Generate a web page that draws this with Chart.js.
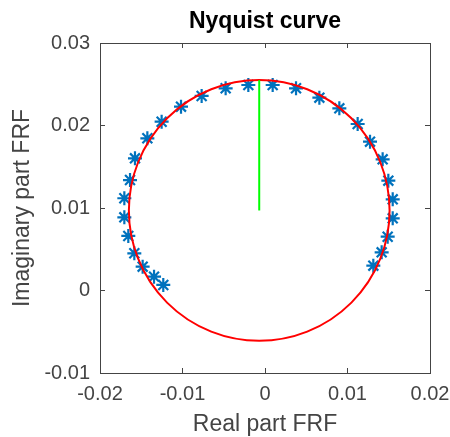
<!DOCTYPE html>
<html>
<head>
<meta charset="utf-8">
<script src="https://cdn.jsdelivr.net/npm/chart.js@4"></script>
<style>
  body { margin: 0; background: #fff; }
</style>
</head>
<body>
<canvas id="c" width="450" height="437"></canvas>
<script>
// measured FRF points (real, imaginary)
const realPart = [-0.01233, -0.01345, -0.01483, -0.01584, -0.01657, -0.01705, -0.01705,
  -0.01636, -0.01576, -0.01426, -0.01253, -0.01018, -0.00768, -0.00477, -0.00202,
  0.00093, 0.00376, 0.00659, 0.00901, 0.01123, 0.01273, 0.01426, 0.01495, 0.01548,
  0.01548, 0.01487, 0.01414, 0.01313];
const imagPart = [0.00067, 0.00168, 0.00289, 0.00451, 0.00661, 0.00887, 0.01118,
  0.01339, 0.01602, 0.01845, 0.02046, 0.02228, 0.02358, 0.02451, 0.02491,
  0.02491, 0.02451, 0.02337, 0.02208, 0.02018, 0.01804, 0.0159, 0.01331, 0.01105,
  0.00875, 0.00652, 0.00463, 0.00301];

// fitted circle
const circleCenter = [-0.0007, 0.0097];
const circleRadius = 0.0158;

// radius line (center -> top of circle)
const radiusLineX = [-0.0007, -0.0007];
const radiusLineY = [0.0097, 0.0255];

const xTickLabels = ['-0.02', '-0.01', '0', '0.01', '0.02'];
const yTickLabels = ['-0.01', '0', '0.01', '0.02', '0.03'];

const FONT = 'Liberation Sans, Arial, Helvetica, sans-serif';
const AXIS_COLOR = '#444';

const circlePlugin = {
  id: 'fitCircle',
  afterDatasetDraw(chart, args) {
    if (args.index !== 0) return;
    const xs = chart.scales.x, ys = chart.scales.y;
    const px = xs.getPixelForValue(circleCenter[0]);
    const py = ys.getPixelForValue(circleCenter[1]);
    const rx = Math.abs(xs.getPixelForValue(circleCenter[0] + circleRadius) - px);
    const ry = Math.abs(ys.getPixelForValue(circleCenter[1] + circleRadius) - py);
    const ctx = chart.ctx;
    ctx.save();
    ctx.strokeStyle = '#ff0000';
    ctx.lineWidth = 2;
    ctx.beginPath();
    ctx.ellipse(px, py, rx, ry, 0, 0, Math.PI * 2);
    ctx.stroke();
    ctx.restore();
  }
};

// top and right axes only close the box and carry inward ticks
const boxAxis = (pos) => ({
  type: 'linear',
  position: pos,
  min: pos === 'top' ? -0.02 : -0.01,
  max: pos === 'top' ? 0.02 : 0.03,
  ticks: { display: false, stepSize: 0.01 },
  grid: { drawOnChartArea: false, tickLength: -5, color: AXIS_COLOR },
  border: { display: true, color: AXIS_COLOR, width: 1 },
  // the plot title sits on the top axis so it is centred over the plot box
  title: {
    display: pos === 'top',
    text: 'Nyquist curve',
    color: '#000',
    font: { family: FONT, size: 23, weight: 'bold' },
    padding: { top: 8, bottom: 0 }
  },
  afterFit(s) {
    if (pos === 'top') s.height = 43; else s.width = 0;
    s.paddingLeft = s.paddingRight = s.paddingTop = s.paddingBottom = 0;
  }
});

new Chart(document.getElementById('c'), {
  type: 'scatter',
  data: {
    datasets: [
      {
        label: 'FRF',
        data: realPart.map((x, i) => ({ x, y: imagPart[i] })),
        pointStyle: 'star',
        pointRadius: 7,
        pointBorderWidth: 2.2,
        borderColor: '#0072bd',
        backgroundColor: '#0072bd',
        showLine: false,
        order: 2
      },
      {
        label: 'radius',
        data: radiusLineX.map((x, i) => ({ x, y: radiusLineY[i] })),
        showLine: true,
        borderColor: '#00ff00',
        borderWidth: 2,
        pointRadius: 0,
        order: 1
      }
    ]
  },
  options: {
    responsive: false,
    animation: false,
    devicePixelRatio: 1,
    layout: { padding: { left: 0, right: 20, top: 0, bottom: 0 } },
    plugins: {
      legend: { display: false },
      tooltip: { enabled: false },
      title: { display: false }
    },
    scales: {
      x: {
        type: 'linear',
        position: 'bottom',
        min: -0.02,
        max: 0.02,
        ticks: {
          stepSize: 0.01,
          padding: 14,
          maxRotation: 0,
          color: '#444',
          font: { family: FONT, size: 20 },
          callback: (v, i) => xTickLabels[i]
        },
        grid: { drawOnChartArea: false, tickLength: -5, color: AXIS_COLOR },
        border: { display: true, color: AXIS_COLOR, width: 1 },
        title: {
          display: true,
          text: 'Real part FRF',
          color: '#444',
          font: { family: FONT, size: 23, lineHeight: 1.1 },
          padding: { top: 0, bottom: 0 }
        },
        afterFit(s) {
          s.height = 64;
          s.paddingLeft = s.paddingRight = 0;
        }
      },
      y: {
        type: 'linear',
        position: 'left',
        min: -0.01,
        max: 0.03,
        ticks: {
          stepSize: 0.01,
          padding: 15,
          color: '#444',
          font: { family: FONT, size: 20 },
          callback: (v, i) => yTickLabels[i]
        },
        grid: { drawOnChartArea: false, tickLength: -5, color: AXIS_COLOR },
        border: { display: true, color: AXIS_COLOR, width: 1 },
        title: {
          display: true,
          text: 'Imaginary part FRF',
          color: '#444',
          font: { family: FONT, size: 23, lineHeight: 1.1 },
          padding: { top: 10, bottom: 0 }
        },
        afterFit(s) {
          s.width = 100;
          s.paddingTop = s.paddingBottom = 0;
        }
      },
      x2: boxAxis('top'),
      y2: boxAxis('right')
    }
  },
  plugins: [circlePlugin]
});
</script>
</body>
</html>
